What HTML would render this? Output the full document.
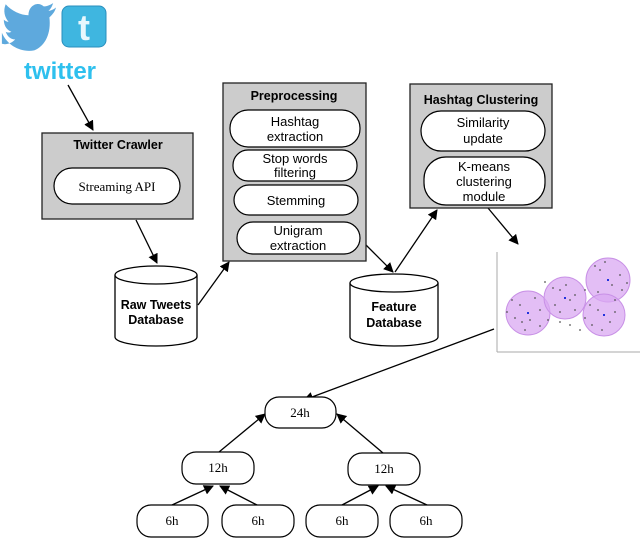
<!DOCTYPE html>
<html><head><meta charset="utf-8"><style>
html,body{margin:0;padding:0;background:#fff;}
svg{display:block;}
.s{font-family:"Liberation Sans",sans-serif;font-size:13px;fill:#000;}
.b{font-family:"Liberation Sans",sans-serif;font-size:12.5px;font-weight:bold;fill:#000;}
.r{font-family:"Liberation Serif",serif;font-size:13px;fill:#000;}
</style></head><body>
<svg width="640" height="538" viewBox="0 0 640 538" xmlns="http://www.w3.org/2000/svg">
<defs><marker id="a" markerWidth="10" markerHeight="10" refX="9" refY="5" orient="auto" markerUnits="userSpaceOnUse"><path d="M0,0 L10,5 L0,10 z" fill="#000"/></marker></defs>
<g transform="translate(0,2) scale(0.95,1.1)">
<path d="M2,28 C8,40 22,46 36,44 C48,40 54,28 52,14 C56,11 58,8 59,5 C56,7 53,8 51,8 C54,6 55,3 56,1 C52,3 49,4 46,4 C40,-1 30,3 30,12 C22,12 12,8 6,2 C3,8 5,14 9,18 C7,18 5,17 4,16 C4,22 8,26 12,27 C10,28 8,28 6,27 C8,32 12,34 16,34 C12,38 6,39 2,38 z" fill="#5ea9dd"/>
</g>
<rect x="62" y="6" width="44" height="41" rx="7" fill="#3fb6e0" stroke="#2a8fbd"/>
<text x="84" y="40" text-anchor="middle" font-family="Liberation Sans,sans-serif" font-size="36" font-weight="bold" fill="#e8f7fd">t</text>
<text x="60" y="79" text-anchor="middle" font-family="Liberation Sans,sans-serif" font-size="24" font-weight="bold" fill="#2ec0ee">twitter</text>
<g stroke="#000" stroke-width="1.3" fill="none">
<line x1="68" y1="85" x2="93" y2="130" marker-end="url(#a)"/>
<line x1="136" y1="220" x2="157" y2="263" marker-end="url(#a)"/>
<line x1="198" y1="305" x2="229" y2="262" marker-end="url(#a)"/>
<line x1="366" y1="245" x2="393" y2="272" marker-end="url(#a)"/>
<line x1="395" y1="272" x2="437" y2="210" marker-end="url(#a)"/>
<line x1="488" y1="208" x2="518" y2="244" marker-end="url(#a)"/>
<line x1="494" y1="329" x2="304" y2="400" marker-end="url(#a)"/>
<line x1="219" y1="452" x2="265" y2="414" marker-end="url(#a)"/>
<line x1="383" y1="453" x2="337" y2="414" marker-end="url(#a)"/>
<line x1="172" y1="505" x2="213" y2="486" marker-end="url(#a)"/>
<line x1="257" y1="505" x2="220" y2="486" marker-end="url(#a)"/>
<line x1="342" y1="505" x2="378" y2="486" marker-end="url(#a)"/>
<line x1="427" y1="505" x2="386" y2="486" marker-end="url(#a)"/>
</g>
<g stroke="#222" stroke-width="1.3">
<rect x="42" y="133" width="151" height="86" fill="#cccccc"/>
<rect x="223" y="83" width="143" height="178" fill="#cccccc"/>
<rect x="410" y="84" width="142" height="124" fill="#cccccc"/>
</g>
<text x="118" y="149" text-anchor="middle" class="b">Twitter Crawler</text>
<text x="294" y="100" text-anchor="middle" class="b">Preprocessing</text>
<text x="481" y="104" text-anchor="middle" class="b">Hashtag Clustering</text>
<g fill="#fff" stroke="#000" stroke-width="1.2">
<rect x="54" y="168" width="126" height="36" rx="18"/>
<rect x="230" y="110" width="130" height="37" rx="18"/>
<rect x="233" y="150" width="124" height="31" rx="15"/>
<rect x="234" y="185" width="124" height="30" rx="15"/>
<rect x="237" y="222" width="123" height="32" rx="16"/>
<rect x="421" y="111" width="124" height="40" rx="20"/>
<rect x="424" y="157" width="121" height="48" rx="22"/>
</g>
<text x="117" y="191" text-anchor="middle" class="r">Streaming API</text>
<text x="295" y="126" text-anchor="middle" class="s">Hashtag</text><text x="295" y="141" text-anchor="middle" class="s">extraction</text>
<text x="295" y="163" text-anchor="middle" class="s">Stop words</text><text x="295" y="177" text-anchor="middle" class="s">filtering</text>
<text x="296" y="205" text-anchor="middle" class="s">Stemming</text>
<text x="298" y="235" text-anchor="middle" class="s">Unigram</text><text x="298" y="250" text-anchor="middle" class="s">extraction</text>
<text x="483" y="127" text-anchor="middle" class="s">Similarity</text><text x="483" y="143" text-anchor="middle" class="s">update</text>
<text x="484" y="171" text-anchor="middle" class="s">K-means</text><text x="484" y="186" text-anchor="middle" class="s">clustering</text><text x="484" y="201" text-anchor="middle" class="s">module</text>
<g fill="#fff" stroke="#000" stroke-width="1.3">
<path d="M115,275 L115,337 A41,9 0 0 0 197,337 L197,275"/>
<ellipse cx="156" cy="275" rx="41" ry="9"/>
<path d="M350,283 L350,337 A44,9 0 0 0 438,337 L438,283"/>
<ellipse cx="394" cy="283" rx="44" ry="9"/>
</g>
<text x="156" y="309" text-anchor="middle" class="b">Raw Tweets</text><text x="156" y="324" text-anchor="middle" class="b">Database</text>
<text x="394" y="311" text-anchor="middle" class="b">Feature</text><text x="394" y="327" text-anchor="middle" class="b">Database</text>
<g stroke="#aaa" stroke-width="1"><line x1="497" y1="252" x2="497" y2="352"/><line x1="497" y1="352" x2="640" y2="352"/></g>
<g fill="#d9a8f2" fill-opacity="0.75" stroke="#c890e6">
<circle cx="528" cy="313" r="22"/><circle cx="565" cy="298" r="21"/><circle cx="608" cy="280" r="22"/><circle cx="604" cy="315" r="21"/>
</g>
<g fill="#555">
<circle cx="520" cy="305" r="0.9"/><circle cx="530" cy="320" r="0.9"/><circle cx="540" cy="310" r="0.9"/><circle cx="515" cy="318" r="0.9"/><circle cx="560" cy="290" r="0.9"/><circle cx="570" cy="300" r="0.9"/><circle cx="555" cy="305" r="0.9"/><circle cx="575" cy="310" r="0.9"/><circle cx="600" cy="270" r="0.9"/><circle cx="612" cy="285" r="0.9"/><circle cx="620" cy="275" r="0.9"/><circle cx="598" cy="310" r="0.9"/><circle cx="610" cy="322" r="0.9"/><circle cx="592" cy="325" r="0.9"/><circle cx="580" cy="330" r="0.9"/><circle cx="570" cy="325" r="0.9"/><circle cx="585" cy="290" r="0.9"/><circle cx="548" cy="320" r="0.9"/><circle cx="525" cy="330" r="0.9"/><circle cx="615" cy="300" r="0.9"/>
<circle cx="512" cy="300" r="0.9"/><circle cx="535" cy="298" r="0.9"/><circle cx="522" cy="322" r="0.9"/><circle cx="540" cy="326" r="0.9"/><circle cx="553" cy="288" r="0.9"/><circle cx="566" cy="285" r="0.9"/><circle cx="575" cy="295" r="0.9"/><circle cx="560" cy="312" r="0.9"/><circle cx="595" cy="266" r="0.9"/><circle cx="605" cy="262" r="0.9"/><circle cx="622" cy="290" r="0.9"/><circle cx="598" cy="292" r="0.9"/><circle cx="590" cy="305" r="0.9"/><circle cx="615" cy="312" r="0.9"/><circle cx="602" cy="330" r="0.9"/><circle cx="585" cy="318" r="0.9"/><circle cx="560" cy="322" r="0.9"/><circle cx="545" cy="282" r="0.9"/><circle cx="627" cy="283" r="0.9"/><circle cx="507" cy="312" r="0.9"/>
</g>
<g fill="#2233dd"><rect x="527" y="312" width="2" height="2"/><rect x="564" y="297" width="2" height="2"/><rect x="607" y="279" width="2" height="2"/><rect x="603" y="314" width="2" height="2"/></g>
<g fill="#fff" stroke="#000" stroke-width="1.2">
<rect x="265" y="397" width="71" height="31" rx="14"/>
<rect x="182" y="452" width="72" height="32" rx="14"/>
<rect x="348" y="453" width="72" height="32" rx="14"/>
<rect x="137" y="505" width="71" height="32" rx="14"/>
<rect x="222" y="505" width="72" height="32" rx="14"/>
<rect x="306" y="505" width="72" height="32" rx="14"/>
<rect x="390" y="505" width="72" height="32" rx="14"/>
</g>
<text x="300" y="417" text-anchor="middle" class="r">24h</text>
<text x="218" y="472" text-anchor="middle" class="r">12h</text>
<text x="384" y="473" text-anchor="middle" class="r">12h</text>
<text x="172" y="525" text-anchor="middle" class="r">6h</text>
<text x="258" y="525" text-anchor="middle" class="r">6h</text>
<text x="342" y="525" text-anchor="middle" class="r">6h</text>
<text x="426" y="525" text-anchor="middle" class="r">6h</text>
</svg>
</body></html>
